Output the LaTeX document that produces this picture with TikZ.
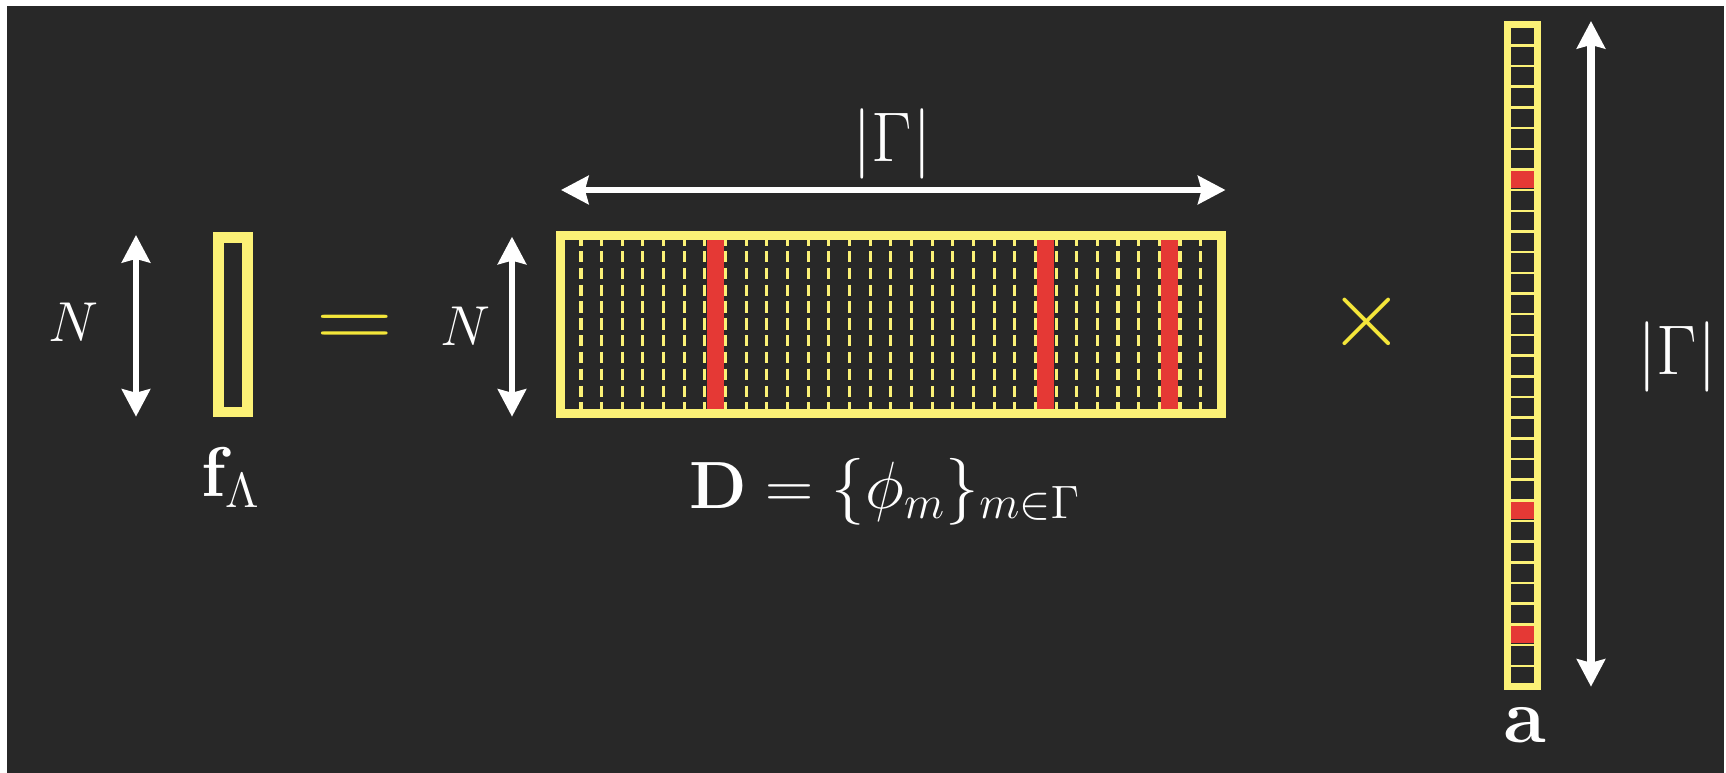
\RequirePackage{fix-cm}
\documentclass[tikz,border=0pt]{standalone}
\usepackage{xcolor}
\usepackage{graphicx}
\usetikzlibrary{positioning,arrows.meta}

\definecolor{boardbg}{HTML}{282828}
\definecolor{boxyellow}{HTML}{FBF176}
\definecolor{opyellow}{HTML}{F4E63A}
\definecolor{atomred}{HTML}{E53935}

\begin{document}
\begin{tikzpicture}[
        x=0.01cm, y=-0.01cm,
        vecbox/.style={
            draw=boxyellow,
            inner sep=0pt,
            outer sep=0pt
        },
        atomdash/.style={
            boxyellow,
            line width=0.031cm,
            dash pattern=on 0.113cm off 0.055cm
        },
        dimarrow/.style={
            {Stealth[length=7.8pt,width=8pt,inset=1pt]}-{Stealth[length=7.8pt,width=8pt,inset=1pt]},
            white,
            line width=1.8pt
        },
        lbl/.style={text=white, inner sep=0pt},
        op/.style={
            text=opyellow,
            inner sep=0pt,
            anchor=base,
            font=\fontsize{28}{28}\selectfont
        }
    ]
        \useasboundingbox (0,0) rectangle (1726,773);
        \fill[white] (0,0) rectangle (1726,773);
        \fill[boardbg] (7,6) rectangle (1724,773);

        % the three blocks
        \node[vecbox, line width=0.105cm, minimum width=0.293cm, minimum height=1.74cm] (signal) at (233,324.8) {};
        \node[vecbox, line width=0.09cm, minimum width=6.61cm, minimum height=1.775cm] (dict) at (891,324.75) {};
        \node[vecbox, line width=0.07cm, minimum width=0.30cm, minimum height=6.618cm] (coef) at (1522.5,355.8) {};

        % atoms of the dictionary
        \begin{scope}[shift={(dict.north west)}]
            \foreach \k in {1,...,31}
                \draw[atomdash] (\k*20.656,-1.7) -- (\k*20.656,173);
            \foreach \c in {7,23,29}
                \fill[atomred] ({\c*20.656+1.6},4.5) rectangle ({(\c+1)*20.656-1.6},173);
        \end{scope}
        \node[vecbox, line width=0.09cm, minimum width=6.61cm, minimum height=1.775cm] at (dict) {};

        % entries of the coefficient vector
        \begin{scope}[shift={(coef.north west)}]
            \foreach \r in {1,...,31}
                \draw[boxyellow, line width=0.025cm] (3.5,\r*20.68) -- (26.5,\r*20.68);
            \foreach \r in {7,23,29}
                \fill[atomred] (3.5,{\r*20.68+2}) rectangle (26.5,{(\r+1)*20.68-2});
        \end{scope}

        % dimension arrows
        \coordinate (sigTop) at (136,235);
        \coordinate (sigBot) at (136,416.7);
        \coordinate (dictTop) at (512,236.7);
        \coordinate (dictBot) at (512,416.7);
        \coordinate (dictLeft) at (561,190);
        \coordinate (dictRight) at (1225.5,190);
        \coordinate (coefTop) at (1591,21);
        \coordinate (coefBot) at (1591,686.7);

        \draw[dimarrow] (sigTop) -- (sigBot);
        \draw[dimarrow] (dictTop) -- (dictBot);
        \draw[dimarrow, line width=1.9pt] (dictLeft) -- (dictRight);
        \draw[dimarrow, line width=2.2pt] (coefTop) -- (coefBot);

        % labels
        \node[lbl, font=\fontsize{16}{16}\selectfont] (sigN) at (73,322.5) {$N$};
        \node[lbl, font=\fontsize{16}{16}\selectfont] (dictN) at (465,326) {$N$};
        \node[lbl, font=\fontsize{20}{20}\selectfont] (dictWidth) at (892,143.5) {$|\Gamma|$};
        \node[lbl, font=\fontsize{20}{20}\selectfont] (coefLen) at (1677,357) {$|\Gamma|$};
        \node[lbl, font=\fontsize{20}{20}\selectfont] (sigLabel) at (231,477.5) {$\mathbf{f}_\Lambda$};
        \node[lbl, font=\fontsize{19}{19}\selectfont] (dictLabel) at (885,491.5) {$\mathbf{D}=\{\phi_m\}_{m\in\Gamma}$};
        \node[lbl, font=\fontsize{22}{22}\selectfont] (coefLabel) at (1525,725.5) {$\mathbf{a}$};

        % operators
        \node[op] (eq) at (354.7,349) {\scalebox{1.08}[0.95]{$=$}};
        \node[op] (times) at (1366.7,347) {$\times$};
    \end{tikzpicture}
\end{document}
